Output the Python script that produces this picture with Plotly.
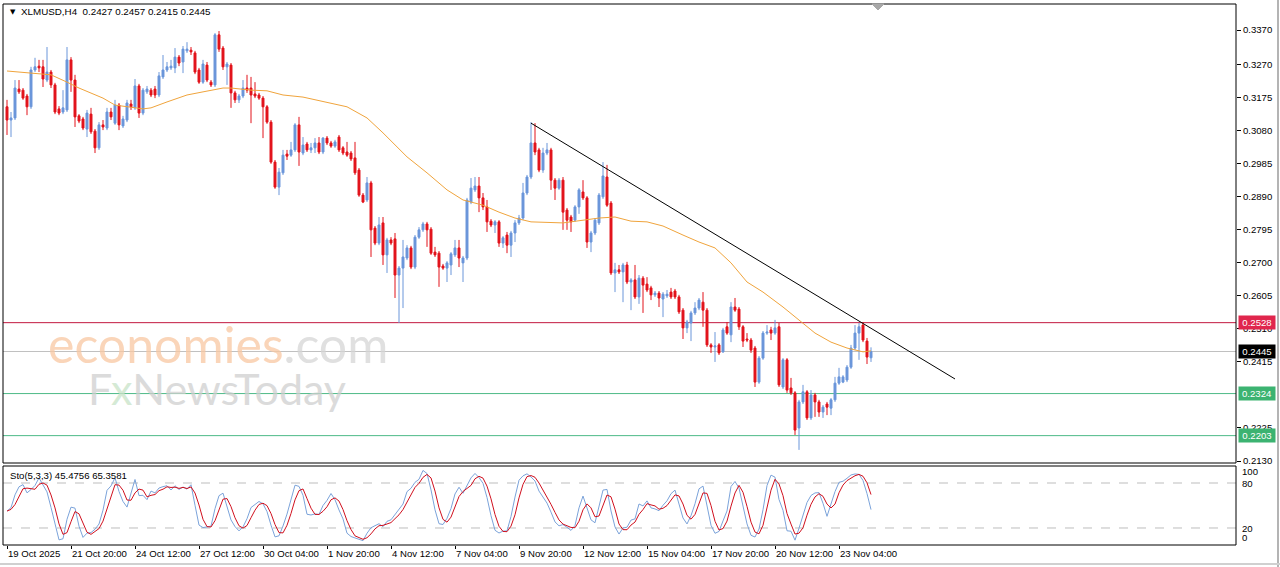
import plotly.graph_objects as go
import pandas as pd

symbol_header = "XLMUSD,H4  0.2427 0.2457 0.2415 0.2445"
sto_header = "Sto(5,3,3) 45.4756 65.3581"

opens = [0.3149,0.3111,0.3117,0.3200,0.3197,0.3180,0.3149,0.3255,0.3266,0.3264,
0.3226,0.3249,0.3212,0.3143,0.3134,0.3140,0.3284,0.3226,0.3123,0.3114,
0.3085,0.3128,0.3079,0.3031,0.3097,0.3088,0.3134,0.3102,0.3154,0.3094,
0.3111,0.3157,0.3146,0.3209,0.3131,0.3192,0.3197,0.3200,0.3183,0.3235,
0.3255,0.3261,0.3261,0.3292,0.3278,0.3310,0.3312,0.3304,0.3255,0.3220,
0.3269,0.3220,0.3212,0.3356,0.3318,0.3264,0.3269,0.3189,0.3169,0.3180,
0.3203,0.3203,0.3186,0.3183,0.3174,0.3149,0.3105,0.2990,0.2918,0.2959,
0.3013,0.3010,0.3025,0.3097,0.3016,0.3042,0.3025,0.3031,0.3045,0.3019,
0.3059,0.3045,0.3036,0.3062,0.3031,0.3019,0.3016,0.3002,0.2967,0.2895,
0.2881,0.2930,0.2800,0.2757,0.2815,0.2723,0.2766,0.2769,0.2665,0.2685,
0.2714,0.2743,0.2688,0.2774,0.2795,0.2812,0.2797,0.2731,0.2728,0.2691,
0.2685,0.2694,0.2723,0.2743,0.2700,0.2714,0.2875,0.2910,0.2921,0.2887,
0.2861,0.2820,0.2809,0.2818,0.2757,0.2780,0.2751,0.2786,0.2815,0.2829,
0.2901,0.2947,0.3045,0.3025,0.2967,0.3016,0.3025,0.2938,0.2915,0.2938,
0.2852,0.2832,0.2823,0.2861,0.2904,0.2887,0.2760,0.2786,0.2815,0.2890,
0.2947,0.2872,0.2671,0.2680,0.2674,0.2694,0.2645,0.2651,0.2602,0.2656,
0.2639,0.2628,0.2608,0.2613,0.2596,0.2605,0.2616,0.2619,0.2602,0.2564,
0.2513,0.2527,0.2556,0.2570,0.2587,0.2564,0.2464,0.2458,0.2464,0.2444,
0.2516,0.2493,0.2573,0.2567,0.2516,0.2481,0.2478,0.2455,0.2357,0.2426,
0.2498,0.2507,0.2498,0.2516,0.2343,0.2421,0.2340,0.2326,0.2225,0.2300,
0.2329,0.2254,0.2320,0.2300,0.2271,0.2294,0.2282,0.2306,0.2354,0.2357,
0.2363,0.2400,0.2455,0.2498,0.2521,0.2475,0.2427]

highs = [0.3169,0.3134,0.3226,0.3226,0.3203,0.3186,0.3264,0.3290,0.3284,0.3284,
0.3321,0.3255,0.3218,0.3151,0.3197,0.3321,0.3292,0.3241,0.3128,0.3120,
0.3140,0.3146,0.3085,0.3105,0.3111,0.3146,0.3146,0.3169,0.3160,0.3123,
0.3169,0.3169,0.3229,0.3215,0.3203,0.3209,0.3203,0.3209,0.3249,0.3298,
0.3278,0.3284,0.3318,0.3298,0.3324,0.3335,0.3321,0.3310,0.3261,0.3284,
0.3278,0.3226,0.3361,0.3367,0.3324,0.3278,0.3275,0.3195,0.3186,0.3226,
0.3241,0.3235,0.3220,0.3189,0.3180,0.3154,0.3111,0.2996,0.2973,0.3025,
0.3025,0.3048,0.3102,0.3120,0.3062,0.3048,0.3045,0.3059,0.3062,0.3062,
0.3065,0.3051,0.3054,0.3068,0.3036,0.3048,0.3022,0.3048,0.2973,0.2901,
0.2947,0.2936,0.2806,0.2832,0.2832,0.2772,0.2774,0.2786,0.2691,0.2766,
0.2751,0.2749,0.2780,0.2803,0.2818,0.2818,0.2803,0.2746,0.2734,0.2697,
0.2705,0.2731,0.2766,0.2766,0.2720,0.2887,0.2944,0.2947,0.2947,0.2901,
0.2881,0.2826,0.2823,0.2823,0.2777,0.2789,0.2792,0.2823,0.2838,0.2930,
0.2953,0.3105,0.3102,0.3031,0.3031,0.3045,0.3031,0.2944,0.2944,0.2947,
0.2858,0.2838,0.2866,0.2915,0.2938,0.2892,0.2792,0.2829,0.2901,0.2990,
0.2982,0.2878,0.2700,0.2694,0.2700,0.2703,0.2656,0.2694,0.2665,0.2662,
0.2659,0.2634,0.2619,0.2619,0.2616,0.2622,0.2628,0.2625,0.2608,0.2570,
0.2536,0.2562,0.2587,0.2599,0.2616,0.2570,0.2469,0.2501,0.2469,0.2513,
0.2530,0.2587,0.2599,0.2573,0.2521,0.2498,0.2484,0.2461,0.2432,0.2504,
0.2521,0.2516,0.2536,0.2527,0.2426,0.2426,0.2369,0.2331,0.2306,0.2349,
0.2334,0.2334,0.2326,0.2306,0.2291,0.2300,0.2311,0.2372,0.2398,0.2377,
0.2406,0.2464,0.2521,0.2527,0.2530,0.2484,0.2457]

lows = [0.3068,0.3062,0.3111,0.3186,0.3169,0.3125,0.3143,0.3249,0.3249,0.3206,
0.3220,0.3203,0.3128,0.3125,0.3128,0.3134,0.3192,0.3091,0.3102,0.3082,
0.3062,0.3071,0.3016,0.3025,0.3082,0.3082,0.3111,0.3097,0.3082,0.3088,
0.3105,0.3140,0.3140,0.3117,0.3125,0.3186,0.3177,0.3174,0.3177,0.3229,
0.3249,0.3255,0.3246,0.3266,0.3246,0.3304,0.3298,0.3243,0.3215,0.3215,
0.3220,0.3206,0.3206,0.3307,0.3255,0.3212,0.3146,0.3160,0.3160,0.3174,
0.3189,0.3102,0.3174,0.3169,0.3059,0.3100,0.2985,0.2913,0.2895,0.2953,
0.2996,0.3005,0.3019,0.2979,0.3010,0.3019,0.3016,0.3016,0.3013,0.3013,
0.3039,0.3031,0.3031,0.3019,0.3010,0.3005,0.2993,0.2953,0.2890,0.2872,
0.2875,0.2717,0.2751,0.2751,0.2694,0.2671,0.2751,0.2599,0.2527,0.2570,
0.2708,0.2682,0.2682,0.2769,0.2789,0.2746,0.2723,0.2717,0.2631,0.2680,
0.2645,0.2665,0.2717,0.2688,0.2645,0.2708,0.2869,0.2904,0.2846,0.2852,
0.2789,0.2803,0.2786,0.2746,0.2743,0.2728,0.2717,0.2760,0.2809,0.2823,
0.2895,0.2941,0.3010,0.2961,0.2959,0.3010,0.2910,0.2881,0.2910,0.2795,
0.2795,0.2789,0.2818,0.2841,0.2881,0.2743,0.2731,0.2780,0.2809,0.2884,
0.2861,0.2665,0.2616,0.2668,0.2587,0.2639,0.2564,0.2596,0.2582,0.2556,
0.2616,0.2593,0.2602,0.2573,0.2544,0.2599,0.2596,0.2596,0.2553,0.2481,
0.2498,0.2475,0.2550,0.2564,0.2516,0.2458,0.2441,0.2415,0.2435,0.2441,
0.2493,0.2472,0.2559,0.2507,0.2458,0.2472,0.2441,0.2343,0.2352,0.2421,
0.2493,0.2478,0.2493,0.2343,0.2337,0.2326,0.2320,0.2205,0.2162,0.2294,
0.2248,0.2248,0.2257,0.2257,0.2254,0.2262,0.2262,0.2300,0.2349,0.2354,
0.2357,0.2395,0.2449,0.2421,0.2472,0.2409,0.2415]

closes = [0.3111,0.3117,0.3203,0.3192,0.3174,0.3149,0.3255,0.3264,0.3261,0.3229,
0.3249,0.3212,0.3134,0.3131,0.3146,0.3284,0.3226,0.3120,0.3108,0.3088,
0.3131,0.3077,0.3031,0.3097,0.3091,0.3134,0.3120,0.3154,0.3097,0.3114,
0.3160,0.3149,0.3209,0.3131,0.3197,0.3200,0.3183,0.3183,0.3238,0.3255,
0.3264,0.3266,0.3292,0.3275,0.3315,0.3315,0.3307,0.3249,0.3220,0.3272,
0.3226,0.3212,0.3356,0.3315,0.3264,0.3272,0.3189,0.3169,0.3180,0.3203,
0.3197,0.3183,0.3180,0.3174,0.3149,0.3105,0.2990,0.2918,0.2961,0.3010,
0.3007,0.3025,0.3097,0.3019,0.3039,0.3025,0.3031,0.3045,0.3019,0.3059,
0.3045,0.3036,0.3048,0.3025,0.3016,0.3010,0.2999,0.2959,0.2895,0.2875,
0.2930,0.2795,0.2757,0.2809,0.2723,0.2766,0.2757,0.2665,0.2685,0.2717,
0.2743,0.2688,0.2774,0.2795,0.2812,0.2795,0.2728,0.2723,0.2688,0.2685,
0.2700,0.2726,0.2743,0.2714,0.2714,0.2881,0.2915,0.2921,0.2887,0.2861,
0.2818,0.2809,0.2818,0.2757,0.2772,0.2751,0.2786,0.2815,0.2829,0.2901,
0.2947,0.3045,0.3019,0.2967,0.3016,0.3025,0.2938,0.2915,0.2938,0.2846,
0.2823,0.2818,0.2861,0.2910,0.2887,0.2760,0.2786,0.2823,0.2895,0.2950,
0.2866,0.2671,0.2680,0.2674,0.2694,0.2645,0.2651,0.2602,0.2656,0.2636,
0.2622,0.2608,0.2613,0.2599,0.2610,0.2610,0.2602,0.2602,0.2559,0.2513,
0.2530,0.2556,0.2570,0.2593,0.2564,0.2464,0.2458,0.2461,0.2441,0.2507,
0.2498,0.2573,0.2564,0.2516,0.2475,0.2478,0.2449,0.2357,0.2426,0.2498,
0.2501,0.2498,0.2513,0.2349,0.2421,0.2334,0.2326,0.2219,0.2300,0.2329,
0.2254,0.2320,0.2300,0.2271,0.2285,0.2285,0.2306,0.2354,0.2372,0.2372,
0.2400,0.2455,0.2498,0.2516,0.2478,0.2429,0.2445]

bars = list(range(len(closes)))

# moving average (bar index, value)
ma_bars = [0,7,11,15,18,24,27,34,36,40,45,49,54,56,61,65,69,74,77,85,90,94,100,
           105,110,114,119,123,127,131,139,148,152,156,160,164,169,173,177,181,
           185,189,194,198,202,206,210,214,216]
ma_values = [0.3252,0.3246,0.3241,0.3220,0.3203,0.3174,0.3154,0.3143,0.3146,0.3163,
             0.3183,0.3192,0.3203,0.3203,0.3197,0.3195,0.3183,0.3177,0.3169,0.3149,
             0.3117,0.3074,0.3005,0.2959,0.2910,0.2881,0.2866,0.2846,0.2829,0.2818,
             0.2815,0.2829,0.2832,0.2820,0.2818,0.2806,0.2780,0.2760,0.2743,0.2700,
             0.2645,0.2616,0.2573,0.2536,0.2498,0.2472,0.2455,0.2444,0.2447]

tick_bars = [0,16,32,48,64,80,96,112,128,144,160,176,192,208]
tick_labels = ["19 Oct 2025","21 Oct 20:00","24 Oct 12:00","27 Oct 12:00","30 Oct 04:00",
               "1 Nov 20:00","4 Nov 12:00","7 Nov 04:00","9 Nov 20:00","12 Nov 12:00",
               "15 Nov 04:00","17 Nov 20:00","20 Nov 12:00","23 Nov 04:00"]

price_ticks = [0.3370,0.3270,0.3175,0.3080,0.2985,0.2890,0.2795,0.2700,0.2605,
               0.2510,0.2415,0.2225,0.2130]

levels = [0.2528, 0.2445, 0.2324, 0.2203]
level_line_colors = ["#C2183F", "#C0C0C0", "#4DBA87", "#4DBA87"]
level_box_colors = ["#E0264D", "#000000", "#3CB371", "#3CB371"]

trend_bars = [131, 237]
trend_prices = [0.3102, 0.2366]

sto_levels = [20, 80]
sto_ticks = [0, 20, 80, 100]

BULL = "#6A96DA"
BEAR = "#E2131B"

# Stochastic (5,3,3) from the candles
df = pd.DataFrame({"h": highs, "l": lows, "c": closes})
ll = df["l"].rolling(5, min_periods=1).min()
hh = df["h"].rolling(5, min_periods=1).max()
num = (df["c"] - ll).rolling(3, min_periods=1).sum()
den = (hh - ll).rolling(3, min_periods=1).sum()
sto_k = (100 * num / den).tolist()
sto_d = pd.Series(sto_k).rolling(3, min_periods=1).mean().tolist()

Y_TOP_PX, Y_BOT_PX = 4, 545
H_PX = Y_BOT_PX - Y_TOP_PX
def yp(py):
    return (Y_BOT_PX - py) / H_PX
def xp(px):
    return (px - 3) / 1233.0

fig = go.Figure()

fig.add_trace(go.Candlestick(
    x=bars, open=opens, high=highs, low=lows, close=closes,
    increasing=dict(line=dict(color=BULL, width=1), fillcolor=BULL),
    decreasing=dict(line=dict(color=BEAR, width=1), fillcolor=BEAR),
    whiskerwidth=0, xaxis="x", yaxis="y", hoverinfo="skip"))

fig.add_trace(go.Scatter(x=ma_bars, y=ma_values, mode="lines",
                         line=dict(color="#F0A43C", width=1), xaxis="x", yaxis="y",
                         hoverinfo="skip"))

fig.add_trace(go.Scatter(x=trend_bars, y=trend_prices, mode="lines",
                         line=dict(color="#000000", width=1), xaxis="x", yaxis="y",
                         hoverinfo="skip"))

fig.add_trace(go.Scatter(x=bars, y=sto_k, mode="lines",
                         line=dict(color="#7BA3DA", width=1), xaxis="x", yaxis="y2",
                         hoverinfo="skip"))
fig.add_trace(go.Scatter(x=bars, y=sto_d, mode="lines",
                         line=dict(color="#D0101E", width=1), xaxis="x", yaxis="y2",
                         hoverinfo="skip"))

shapes = []
for lv, col in zip(levels, level_line_colors):
    shapes.append(dict(type="line", xref="paper", yref="y", x0=0, x1=1, y0=lv, y1=lv,
                       line=dict(color=col, width=1), layer="below"))
for sl in sto_levels:
    shapes.append(dict(type="line", xref="paper", yref="y2", x0=0, x1=1, y0=sl, y1=sl,
                       line=dict(color="#BDBDBD", width=1, dash="dash"), layer="below"))
main_bottom = yp(463)
sto_top = yp(466)
shapes.append(dict(type="rect", xref="paper", yref="paper", x0=0, x1=1, y0=main_bottom, y1=1,
                   line=dict(color="black", width=1)))
shapes.append(dict(type="rect", xref="paper", yref="paper", x0=0, x1=1, y0=0, y1=sto_top,
                   line=dict(color="black", width=1)))
# chart-shift marker
shapes.append(dict(type="path", xref="paper", yref="paper",
                   path=f"M {xp(872)},{yp(4)} L {xp(884)},{yp(4)} L {xp(878)},{yp(10)} Z",
                   fillcolor="#A8A8A8", line=dict(color="#A8A8A8", width=1)))
# window edges
shapes.append(dict(type="line", xref="paper", yref="paper", x0=xp(1278), x1=xp(1278),
                   y0=yp(0), y1=yp(567), line=dict(color="#B4B4B4", width=2)))
shapes.append(dict(type="line", xref="paper", yref="paper", x0=xp(0), x1=xp(1280),
                   y0=yp(564), y1=yp(564), line=dict(color="#D0D0D0", width=2)))

annotations = []
FONT = "Liberation Sans"
annotations.append(dict(xref="paper", yref="paper", x=xp(8), y=yp(12), xanchor="left",
                        yanchor="middle", text="▼", showarrow=False,
                        font=dict(family="DejaVu Sans", size=7, color="black")))
annotations.append(dict(xref="paper", yref="paper", x=xp(19), y=yp(12), xanchor="left",
                        yanchor="middle", text=symbol_header, showarrow=False,
                        font=dict(family=FONT, size=9.8, color="black")))
annotations.append(dict(xref="paper", yref="paper", x=xp(8), y=yp(475), xanchor="left",
                        yanchor="middle", text=sto_header, showarrow=False,
                        font=dict(family=FONT, size=9.6, color="black")))
for tb, tl in zip(tick_bars, tick_labels):
    annotations.append(dict(xref="x", yref="paper", x=tb, y=yp(553), xanchor="left",
                            yanchor="middle", text=tl, showarrow=False, xshift=-1,
                            font=dict(family=FONT, size=9.6, color="black")))
for lv, bc in zip(levels, level_box_colors):
    annotations.append(dict(xref="paper", yref="y", x=1, y=lv, xanchor="left",
                            yanchor="middle", text=f"{lv:.4f}", showarrow=False, xshift=2,
                            bgcolor=bc, borderpad=1, width=34, height=11,
                            font=dict(family=FONT, size=9.6, color="white")))
sto_label_pos = {100: 471, 80: 483, 20: 528, 0: 537}
for v in sto_ticks:
    annotations.append(dict(xref="paper", yref="paper", x=1, y=yp(sto_label_pos[v]),
                            xanchor="left", yanchor="middle", text=str(v), showarrow=False,
                            xshift=4, font=dict(family=FONT, size=9.6, color="black")))
# watermarks
annotations.append(dict(xref="paper", yref="paper", x=xp(46), y=yp(344), xanchor="left",
                        yanchor="middle", showarrow=False, opacity=0.75,
                        text='economies<span style="color:#D6D6D6">.com</span>',
                        font=dict(family="Lato", size=50, color="#F9C8A2")))
annotations.append(dict(xref="paper", yref="paper", x=xp(86), y=yp(388), xanchor="left",
                        yanchor="middle", showarrow=False, opacity=0.75,
                        text='F<span style="color:#C8E3C8">x</span>NewsToday',
                        font=dict(family="Lato", size=43, color="#CFCFCF")))

main_range = [0.34563 - 0.0002877 * 463, 0.34563 - 0.0002877 * 4]

fig.update_layout(
    width=1280, height=567,
    margin=dict(l=3, r=44, t=4, b=22),
    paper_bgcolor="white", plot_bgcolor="white",
    showlegend=False,
    font=dict(family=FONT, size=9.6, color="black"),
    xaxis=dict(range=[-1, 307.25], anchor="y2", showgrid=False, zeroline=False,
               showticklabels=False, ticks="outside", ticklen=3, tickcolor="black",
               tickvals=tick_bars, rangeslider=dict(visible=False), showline=False),
    yaxis=dict(domain=[main_bottom, 1], range=main_range, side="right", anchor="x",
               showgrid=False, zeroline=False, tickvals=price_ticks,
               ticktext=[f"{t:.4f}" for t in price_ticks], ticks="outside", ticklen=4,
               tickcolor="black", tickfont=dict(family=FONT, size=9.6, color="black"),
               showline=False),
    yaxis2=dict(domain=[0, sto_top], range=[-2.7, 102.7], side="right", anchor="x",
                showgrid=False, zeroline=False, showticklabels=False, ticks=""),
    shapes=shapes, annotations=annotations,
)

fig.write_html("out.html", config={"displayModeBar": False},
               post_script="document.body.style.margin='0';document.body.style.overflow='hidden';")
